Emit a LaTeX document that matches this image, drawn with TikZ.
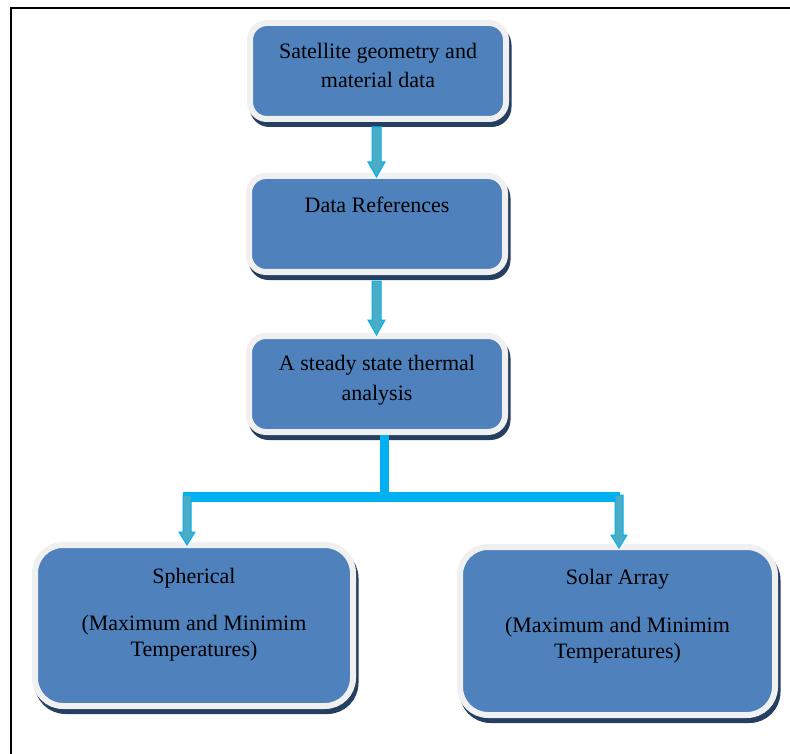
\documentclass[tikz,border=0pt]{standalone}
\usepackage{fontspec}
\setmainfont{Liberation Serif}
\usetikzlibrary{calc}
\definecolor{boxblue}{HTML}{4F81BD}
\definecolor{rimgray}{HTML}{F0F0F0}
\definecolor{shadownavy}{HTML}{243F60}
\definecolor{arrowteal}{HTML}{4BACC6}
\definecolor{cyanline}{HTML}{00B0F0}
\tikzset{
  stepbox/.style={fill=boxblue, draw=rimgray, line width=6pt, inner sep=0pt,
    preaction={fill=shadownavy, draw=shadownavy, line width=6pt,
      transform canvas={xshift=2.5pt,yshift=-5pt}}},
  topbox/.style={stepbox, rounded corners=17pt, minimum width=256pt, minimum height=96pt},
  lowbox/.style={stepbox, rounded corners=28pt},
  txt/.style={font=\fontsize{22}{29}\selectfont, align=center, inner sep=0pt, text=black, anchor=north},
  lowtxt/.style={txt, font=\fontsize{22}{26}\selectfont},
  fatarrow/.style={fill=arrowteal, draw=cyanline, line width=1pt, line join=miter},
  vbar/.style={draw=cyanline, line width=9pt},
  hbar/.style={draw=cyanline, line width=10pt}
}
\begin{document}
\begin{tikzpicture}[x=1pt,y=-1pt]
\useasboundingbox (0,0) rectangle (790,754);
% frame
\draw[line width=2pt] (790,8) -- (11,8) -- (11,754);

% boxes
\node[topbox] (b1) at (378,71) {};
\node[topbox] (b2) at (377,224) {};
\node[topbox] (b3) at (377,384) {};
\node[lowbox, minimum width=318pt, minimum height=161pt] (b4) at (194,625.5) {};
\node[lowbox, minimum width=315pt, minimum height=168pt] (b5) at (617.5,631) {};

% texts
\node[txt] (t1) at ([yshift=-18.2pt]b1.north) {\strut Satellite geometry and\\material data};
\node[txt] (t2) at ([yshift=-19.2pt]b2.north) {\strut Data References};
\node[txt] (t3) at ([yshift=-17.2pt]b3.north) {\strut A steady state thermal\\[1pt]analysis};
\node[lowtxt] (t4) at ([yshift=-23pt]b4.north) {\strut Spherical\\[21pt](Maximum and Minimim\\Temperatures)};
\node[lowtxt] (t5) at ([yshift=-22pt]b5.north) {\strut Solar Array\\[22pt](Maximum and Minimim\\Temperatures)};

% arrows between top boxes
\draw[fatarrow] let \p1=([xshift=-1.5pt,yshift=-5pt]b1.south), \p2=([yshift=-4pt]b2.north) in
  (\x1-4.5pt,\y1) -- (\x1-4.5pt,\y2+15pt) -- (\x1-8.5pt,\y2+15pt) -- (\x1,\y2)
  -- (\x1+8.5pt,\y2+15pt) -- (\x1+4.5pt,\y2+15pt) -- (\x1+4.5pt,\y1) -- cycle;
\draw[fatarrow] let \p1=([xshift=-0.5pt,yshift=-6pt]b2.south), \p2=([yshift=-2pt]b3.north) in
  (\x1-4.5pt,\y1) -- (\x1-4.5pt,\y2+15pt) -- (\x1-8.5pt,\y2+15pt) -- (\x1,\y2)
  -- (\x1+8.5pt,\y2+15pt) -- (\x1+4.5pt,\y2+15pt) -- (\x1+4.5pt,\y1) -- cycle;

% branch
\coordinate (jl) at (183,497);
\coordinate (jr) at (620,497);
\draw[vbar] ([xshift=7.5pt]b3.south) -- ([xshift=7.5pt]b3.south |- jl);
\draw[hbar] (jl) -- (jr);

\coordinate (dl) at (187,495);
\coordinate (dr) at (619,495);
\draw[fatarrow] let \p1=(dl), \p2=([yshift=-3pt]dl |- b4.north) in
  (\x1-4pt,\y1) -- (\x1-4pt,\y2+13pt) -- (\x1-8pt,\y2+13pt) -- (\x1,\y2)
  -- (\x1+8pt,\y2+13pt) -- (\x1+4pt,\y2+13pt) -- (\x1+4pt,\y1) -- cycle;
\draw[fatarrow] let \p1=(dr), \p2=([yshift=-4pt]dr |- b5.north) in
  (\x1-4pt,\y1) -- (\x1-4pt,\y2+13pt) -- (\x1-8pt,\y2+13pt) -- (\x1,\y2)
  -- (\x1+8pt,\y2+13pt) -- (\x1+4pt,\y2+13pt) -- (\x1+4pt,\y1) -- cycle;
\end{tikzpicture}
\end{document}
